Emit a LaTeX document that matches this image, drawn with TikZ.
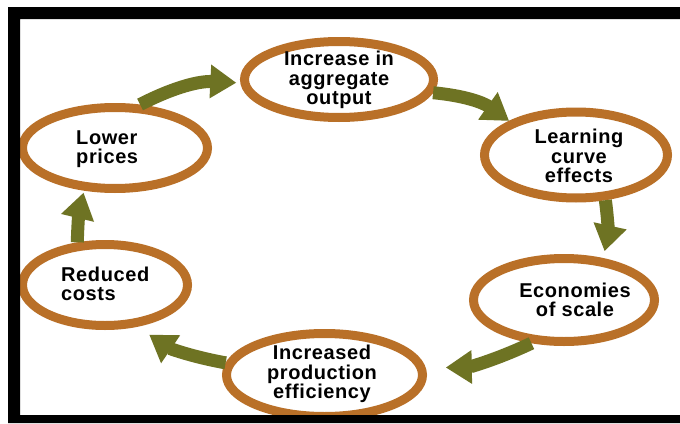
\documentclass[tikz,border=0pt]{standalone}
\usepackage{fontspec}
\setmainfont{Liberation Sans}[LetterSpace=3]
\usetikzlibrary{shapes.geometric,arrows.meta}
\definecolor{ringc}{HTML}{B97028}
\definecolor{flowc}{HTML}{6E7323}
\tikzset{
  ring/.style={ellipse, draw=ringc, line width=9pt, fill=white, inner sep=0pt},
  lbl/.style={font=\fontsize{20}{19.5}\selectfont\bfseries, inner sep=0pt},
  flow/.style={draw=flowc, line width=13pt, -{Triangle[width=32pt,length=26pt]}}
}
\begin{document}
\begin{tikzpicture}[x=1pt,y=1pt]
\useasboundingbox (0,0) rectangle (680,-423);
\fill[white] (0,0) rectangle (680,-423);
% ellipses
\node[ring, minimum width=189pt, minimum height=76pt] (e1) at (339,-79.5) {};
\node[ring, minimum width=183pt, minimum height=86pt] (e2) at (576,-155) {};
\node[ring, minimum width=181pt, minimum height=83pt] (e3) at (564,-300) {};
\node[ring, minimum width=196pt, minimum height=83pt] (e4) at (324.5,-375) {};
\node[ring, minimum width=165pt, minimum height=81pt] (e5) at (105,-285) {};
\node[ring, minimum width=185pt, minimum height=81pt] (e6) at (115,-148) {};
% labels
\node[lbl, align=center] (t1) at (339,-80) {Increase in\\aggregate\\output};
\node[lbl, align=center] (t2) at (579,-156) {Learning\\curve\\effects};
\node[lbl, align=center] (t3) at (575,-300) {Economies\\of scale};
\node[lbl, align=center] (t4) at (322,-374) {Increased\\production\\efficiency};
\node[lbl, align=left, anchor=west] (t5) at (61,-284) {Reduced\\costs};
\node[lbl, align=left, anchor=west] (t6) at (76,-149) {Lower\\prices};
% arrows
\draw[flow, shorten >=4pt] (e6.60) to[bend left=15] (e1.182);
\draw[flow] (e1.-8) to[bend left=15] (e2.153);
\draw[flow, shorten >=7pt] (e2.-57) to[bend left=10] (e3.47);
\draw[flow, shorten >=20pt] (e3.-127) to[bend left=12] (e4.4);
\draw[flow, shorten >=14pt] (e4.173) to[bend left=12] (e5.-52);
\draw[flow, shorten >=2pt] (e5.123) to[bend left=6] (e6.-126);
% frame
\fill[black, even odd rule] (8,-7) rectangle (680,-423) (20,-19) rectangle (680,-415);
\end{tikzpicture}
\end{document}
